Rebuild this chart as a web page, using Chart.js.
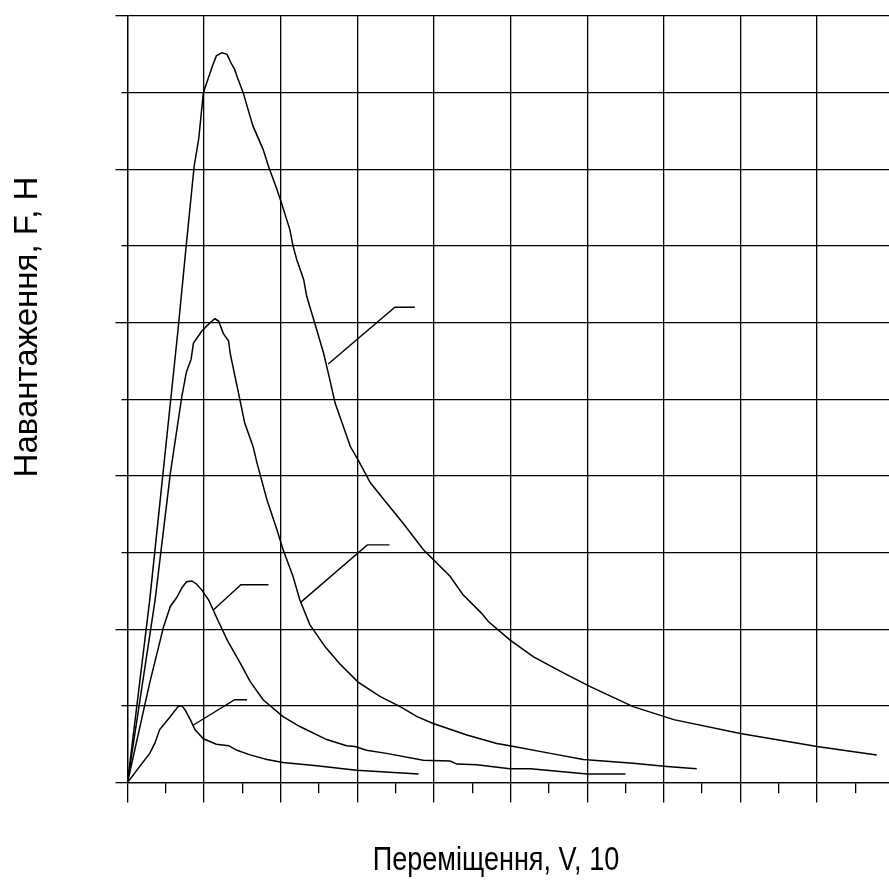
<!DOCTYPE html>
<html>
<head>
<meta charset="utf-8">
<script src="https://cdn.jsdelivr.net/npm/chart.js@4.4.1/dist/chart.umd.min.js"></script>
<style>
  html, body { margin: 0; padding: 0; background: #fff; }
  canvas { display: block; }
</style>
</head>
<body>
<canvas id="chart" width="889" height="886"></canvas>
<script>
// axis ranges (one grid cell = 1 unit)
const X_MAX = 9.94;
const Y_MAX = 10;

// axis titles
const xTitle = 'Переміщення, V, 10';
const yTitle = 'Навантаження, F, Н';

// load curves, [displacement, load]
const curve1 = [
    [0, 0], [0.29, 2.38], [0.66, 5.91], [0.77, 7.04], [0.87, 8.04], [0.93, 8.4],
    [0.99, 9.0], [1.11, 9.35], [1.16, 9.48], [1.23, 9.52], [1.3, 9.5], [1.35, 9.39],
    [1.4, 9.3], [1.43, 9.21], [1.51, 9.0], [1.6, 8.69], [1.64, 8.56], [1.77, 8.26],
    [1.84, 8.04], [1.95, 7.74], [2.01, 7.56], [2.12, 7.21], [2.16, 7.0], [2.21, 6.82],
    [2.3, 6.56], [2.34, 6.34], [2.43, 6.04], [2.56, 5.6], [2.64, 5.26], [2.71, 4.95],
    [2.91, 4.38], [3.01, 4.21], [3.17, 3.91], [3.38, 3.65], [3.6, 3.38], [3.86, 3.04],
    [4.21, 2.69], [4.38, 2.45], [4.62, 2.21], [4.71, 2.1], [4.99, 1.86], [5.3, 1.64],
    [5.69, 1.43], [6.04, 1.25], [6.6, 0.99], [7.13, 0.82], [8.0, 0.64], [9.0, 0.47],
    [9.78, 0.36]
];
const curve2 = [
    [0, 0], [0.36, 2.38], [0.56, 4.04], [0.71, 5.04], [0.77, 5.36], [0.83, 5.52],
    [0.86, 5.73], [0.97, 5.89], [1.08, 6.0], [1.14, 6.05], [1.19, 6.02], [1.25, 5.86],
    [1.32, 5.76], [1.34, 5.6], [1.43, 5.17], [1.53, 4.69], [1.64, 4.38], [1.69, 4.17],
    [1.82, 3.69], [1.95, 3.3], [2.03, 3.04], [2.16, 2.69], [2.25, 2.38], [2.38, 2.06],
    [2.58, 1.77], [2.77, 1.55], [3.01, 1.31], [3.3, 1.12], [3.56, 0.99], [3.78, 0.86],
    [3.99, 0.77], [4.43, 0.62], [4.82, 0.51], [4.99, 0.48], [5.52, 0.38], [5.95, 0.3],
    [6.6, 0.25], [7.04, 0.21], [7.43, 0.18]
];
const curve3 = [
    [0, 0], [0.29, 1.3], [0.47, 2.03], [0.56, 2.3], [0.64, 2.41], [0.71, 2.54],
    [0.77, 2.62], [0.84, 2.63], [0.9, 2.59], [0.97, 2.51], [1.06, 2.38], [1.16, 2.16],
    [1.3, 1.86], [1.47, 1.56], [1.6, 1.32], [1.77, 1.08], [2.03, 0.86], [2.25, 0.73],
    [2.6, 0.56], [2.86, 0.48], [2.97, 0.47], [3.12, 0.42], [3.38, 0.38], [3.86, 0.29],
    [4.21, 0.28], [4.3, 0.24], [4.56, 0.23], [4.99, 0.18], [5.26, 0.18], [6.0, 0.11],
    [6.5, 0.11]
];
const curve4 = [
    [0, 0], [0.16, 0.21], [0.29, 0.38], [0.36, 0.52], [0.42, 0.69], [0.56, 0.86],
    [0.66, 0.99], [0.71, 1.0], [0.75, 0.95], [0.82, 0.82], [0.88, 0.69], [0.99, 0.57],
    [1.16, 0.5], [1.32, 0.48], [1.43, 0.42], [1.6, 0.36], [1.82, 0.3], [2.03, 0.26],
    [2.47, 0.22], [2.99, 0.16], [3.8, 0.11]
];

// leader lines next to each curve (unlabelled callouts)
const leader1 = [[2.62, 5.46], [3.49, 6.2], [3.75, 6.2]];
const leader2 = [[2.26, 2.35], [3.13, 3.1], [3.42, 3.1]];
const leader3 = [[1.12, 2.25], [1.48, 2.58], [1.84, 2.58]];
const leader4 = [[0.86, 0.75], [1.4, 1.08], [1.56, 1.08]];

function toPoints(arr) {
    return arr.map(p => ({ x: p[0], y: p[1] }));
}

function lineSet(arr, width) {
    return {
        data: toPoints(arr),
        showLine: true,
        borderColor: '#000',
        borderWidth: width,
        pointRadius: 0,
        tension: 0,
        fill: false
    };
}

function isMajor(v) {
    return Math.abs(v - Math.round(v)) < 1e-6;
}

// axis titles drawn as text on the canvas
const axisTitles = {
    id: 'axisTitles',
    afterDraw(chart) {
        const ctx = chart.ctx;
        const area = chart.chartArea;
        ctx.save();
        ctx.fillStyle = '#000';
        ctx.textBaseline = 'alphabetic';
        ctx.textAlign = 'center';

        // x title, condensed face
        ctx.save();
        ctx.translate(area.left + 368.5, 870);
        ctx.scale(0.82, 1);
        ctx.font = '33px "Liberation Sans", Arial, sans-serif';
        ctx.fillText(xTitle, 0, 0);
        ctx.restore();

        // y title, rotated
        ctx.save();
        ctx.translate(37, 327);
        ctx.rotate(-Math.PI / 2);
        ctx.font = '33px "Liberation Sans", Arial, sans-serif';
        ctx.fillText(yTitle, 0, 0);
        ctx.restore();

        ctx.restore();
    }
};

const ctx = document.getElementById('chart');

new Chart(ctx, {
    type: 'scatter',
    data: {
        datasets: [
            lineSet(curve1, 1.5),
            lineSet(curve2, 1.5),
            lineSet(curve3, 1.5),
            lineSet(curve4, 1.5),
            lineSet(leader1, 1.4),
            lineSet(leader2, 1.4),
            lineSet(leader3, 1.4),
            lineSet(leader4, 1.4)
        ]
    },
    options: {
        responsive: false,
        animation: false,
        layout: {
            padding: { left: 115.5, top: 16, right: 0, bottom: 83.5 }
        },
        plugins: {
            legend: { display: false },
            tooltip: { enabled: false }
        },
        scales: {
            x: {
                type: 'linear',
                min: 0,
                max: X_MAX,
                ticks: { display: false, stepSize: 0.5, includeBounds: false },
                grid: {
                    color: c => isMajor(c.tick.value) ? '#000' : 'rgba(0,0,0,0)',
                    lineWidth: 1.3,
                    tickLength: 20,
                    tickColor: '#000',
                    tickWidth: 1.3,
                    tickBorderDash: c => isMajor(c.tick.value) ? [] : [10, 40]
                },
                border: { color: '#000', width: 1.3 }
            },
            y: {
                type: 'linear',
                min: 0,
                max: Y_MAX,
                ticks: { display: false, stepSize: 1 },
                grid: {
                    color: '#000',
                    lineWidth: 1.3,
                    tickLength: 12,
                    tickColor: '#000',
                    tickWidth: 1.3,
                    tickBorderDash: c => Math.round(c.tick.value) % 2 === 0 ? [] : [6, 6],
                    tickBorderDashOffset: c => Math.round(c.tick.value) % 2 === 0 ? 0 : 6
                },
                border: { color: '#000', width: 1.3 }
            }
        }
    },
    plugins: [axisTitles]
});
</script>
</body>
</html>
